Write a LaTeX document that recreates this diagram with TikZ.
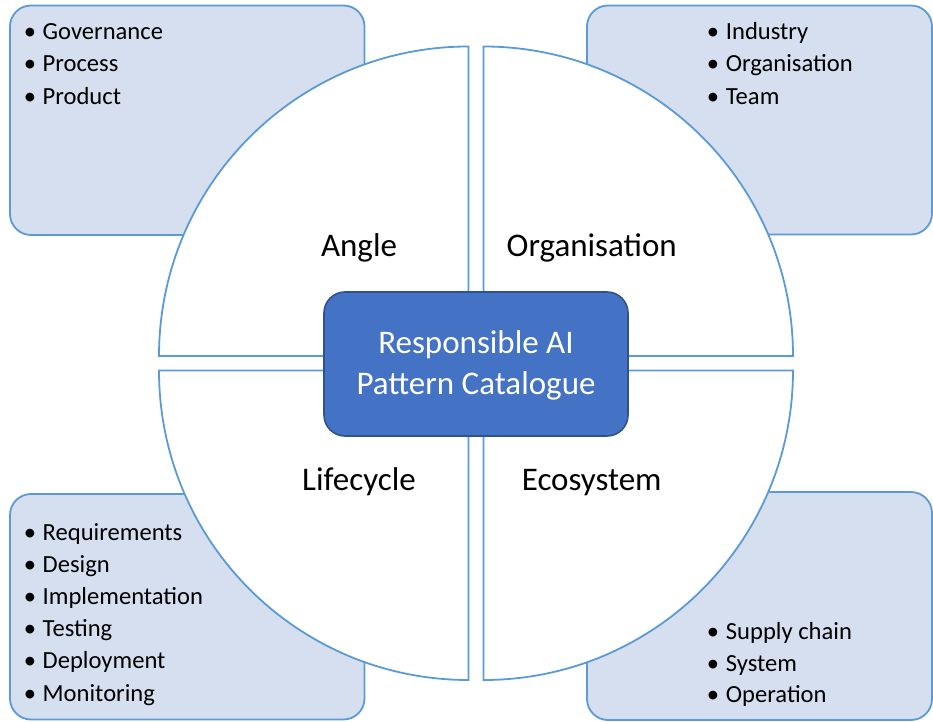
\documentclass[tikz,border=0pt]{standalone}
\usepackage{fontspec}
\setmainfont{Carlito}
\definecolor{boxfill}{HTML}{D5DFEF}
\definecolor{lineblue}{HTML}{5B9BD5}
\definecolor{corefill}{HTML}{4472C4}
\definecolor{coreline}{HTML}{2F528F}
\begin{document}
\begin{tikzpicture}[x=1pt,y=1pt,
  listbox/.style={draw=lineblue,fill=boxfill,line width=1.8pt,rounded corners=21pt},
  quad/.style={draw=lineblue,fill=white,line width=1.8pt},
  core/.style={draw=coreline,fill=corefill,line width=1.6pt,rounded corners=21pt},
  bigtxt/.style={inner sep=0pt,anchor=base,font=\fontsize{33}{40}\selectfont},
  item/.style={inner sep=0pt,anchor=base west,font=\fontsize{24.6}{30}\selectfont},
  bul/.style={inner sep=0pt,anchor=base,font=\fontsize{24.6}{30}\selectfont}]
\useasboundingbox (0,0) rectangle (933,721);
% corner boxes
\draw[listbox] (10,486) rectangle (364.5,715.5);
\draw[listbox] (587,486.5) rectangle (932,715.5);
\draw[listbox] (10,1.5) rectangle (364.5,227);
\draw[listbox] (587,1) rectangle (932,229);
% quadrants
\draw[quad] (468.5,365) -- (159,365) arc[start angle=180,end angle=90,radius=309.5] -- cycle;
\draw[quad] (483.5,365) -- (483.5,674.5) arc[start angle=90,end angle=0,radius=309.5] -- cycle;
\draw[quad] (483.5,350.5) -- (793,350.5) arc[start angle=0,end angle=-90,radius=309.5] -- cycle;
\draw[quad] (468.5,350.5) -- (468.5,41) arc[start angle=-90,end angle=-180,radius=309.5] -- cycle;
% centre
\node[core,minimum width=304pt,minimum height=144pt] (core) at (476,357) {};
\node[bigtxt,text=white] (core1) at (476,367.7) {Responsible AI};
\node[bigtxt,text=white] (core2) at (476,327) {Pattern Catalogue};
% quadrant labels
\node[bigtxt] (angle) at (359,464.3) {Angle};
\node[bigtxt] (org) at (591.7,464.3) {Organisation};
\node[bigtxt] (life) at (359,231) {Lifecycle};
\node[bigtxt] (eco) at (591.7,231) {Ecosystem};
% top-left list
\foreach \t [count=\i] in {Governance,Process,Product}{
  \node[bul] (tlb\i) at (30,{681.5-(\i-1)*32.3}) {•};
  \node[item] (tl\i) at (42.5,{681.5-(\i-1)*32.3}) {\t};
}
% top-right list
\foreach \t [count=\i] in {Industry,Organisation,Team}{
  \node[bul] (trb\i) at (713,{681.5-(\i-1)*32.3}) {•};
  \node[item] (tr\i) at (725.7,{681.5-(\i-1)*32.3}) {\t};
}
% bottom-left list
\foreach \t [count=\i] in {Requirements,Design,Implementation,Testing,Deployment,Monitoring}{
  \node[bul] (blb\i) at (30,{181-(\i-1)*32.2}) {•};
  \node[item] (bl\i) at (42.5,{181-(\i-1)*32.2}) {\t};
}
% bottom-right list
\foreach \t [count=\i] in {Supply chain,System,Operation}{
  \node[bul] (brb\i) at (713,{81.7-(\i-1)*31.7}) {•};
  \node[item] (br\i) at (725.7,{81.7-(\i-1)*31.7}) {\t};
}
\end{tikzpicture}
\end{document}
